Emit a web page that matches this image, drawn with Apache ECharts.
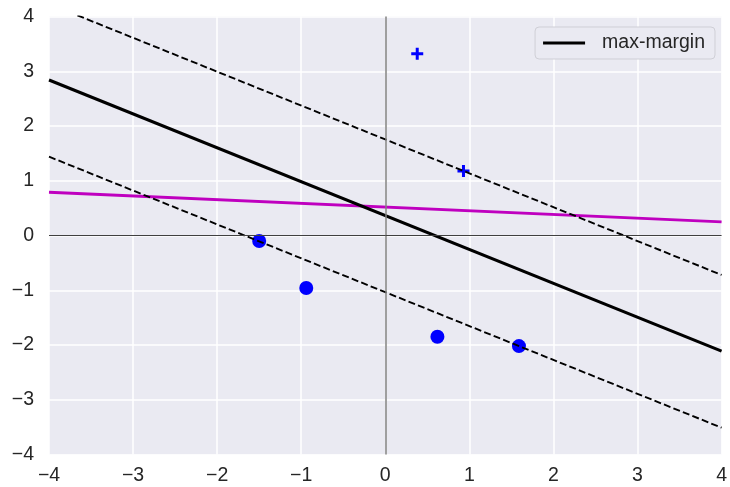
<!DOCTYPE html>
<html>
<head>
<meta charset="utf-8">
<script src="https://cdn.jsdelivr.net/npm/echarts@6/dist/echarts.min.js"></script>
<style>html,body{margin:0;padding:0;background:#fff}#c{width:730px;height:487px}</style>
</head>
<body>
<div id="c"></div>
<script>
// Data
const positivePts = [[0.38, 3.32], [0.93, 1.18]];
const negativePts = [[-1.50, -0.10], [-0.94, -0.96], [0.62, -1.85], [1.59, -2.02]];
const maxMargin = [[-4, 2.84], [4, -2.11]];
const marginUpper = [[-4, 4.23], [4, -0.72]];
const marginLower = [[-4, 1.44], [4, -3.51]];
const otherLine = [[-4, 0.79], [4, 0.25]];
const tickValues = [-4, -3, -2, -1, 0, 1, 2, 3, 4];

const fmt = v => (v < 0 ? '\u2212' + Math.abs(v) : String(v));
const font = 'Liberation Sans, Arial, sans-serif';
const plus = 'path://M3.75,0H6.25V3.75H10V6.25H6.25V10H3.75V6.25H0V3.75H3.75Z';
const FS = 19.5;

const chart = echarts.init(document.getElementById('c'), null, {renderer: 'canvas'});
const axisCommon = {
  type: 'value', min: -4, max: 4, interval: 1,
  axisLine: {show: false}, axisTick: {show: false},
  splitLine: {show: true, lineStyle: {color: '#ffffff', width: 1.5}},
  axisLabel: {color: '#262626', fontSize: FS, fontFamily: font, formatter: fmt}
};
chart.setOption({
  animation: false,
  backgroundColor: '#ffffff',
  grid: {left: 49, right: 7, top: 16.5, bottom: 32.5, show: true, backgroundColor: '#EAEAF2', borderWidth: 0},
  xAxis: Object.assign({}, axisCommon, {axisLabel: Object.assign({}, axisCommon.axisLabel, {margin: 11})}),
  yAxis: Object.assign({}, axisCommon, {axisLabel: Object.assign({}, axisCommon.axisLabel, {margin: 15})}),
  legend: {
    data: ['max-margin'], right: 15, top: 27,
    backgroundColor: '#EAEAF2', borderColor: '#cfcfd6', borderWidth: 1, borderRadius: 4,
    padding: [6, 10, 6, 8], itemWidth: 42, itemHeight: 16, itemGap: 10,
    textStyle: {fontSize: FS, fontFamily: font, color: '#262626', padding: [0, 0, 0, 12]},
    icon: 'path://M0,6.6H42V9.4H0Z'
  },
  series: [
    {
      type: 'line', name: 'axes', data: [], silent: true,
      markLine: {
        symbol: 'none', silent: true, label: {show: false},
        data: [
          {xAxis: 0, lineStyle: {color: '#808080', width: 1.5, type: 'solid'}},
          {yAxis: 0, lineStyle: {color: '#404040', width: 1, type: 'solid'}}
        ]
      }, z: 1
    },
    {type: 'scatter', name: 'neg', data: negativePts, symbol: 'circle', symbolSize: 14, itemStyle: {color: '#0000FF', opacity: 1}, z: 2},
    {type: 'scatter', name: 'pos', data: positivePts, symbol: plus, symbolSize: 12, itemStyle: {color: '#0000FF', opacity: 1}, z: 2},
    {type: 'line', name: 'other', data: otherLine, symbol: 'none', lineStyle: {color: '#BF00BF', width: 2.8}, z: 3},
    {type: 'line', name: 'upper', data: marginUpper, symbol: 'none', clip: true, lineStyle: {color: '#000', width: 1.9, type: [7, 3.2]}, z: 3},
    {type: 'line', name: 'lower', data: marginLower, symbol: 'none', clip: true, lineStyle: {color: '#000', width: 1.9, type: [7, 3.2]}, z: 3},
    {type: 'line', name: 'max-margin', data: maxMargin, symbol: 'none', itemStyle: {color: '#000'}, lineStyle: {color: '#000', width: 3}, z: 4}
  ]
});
</script>
</body>
</html>
